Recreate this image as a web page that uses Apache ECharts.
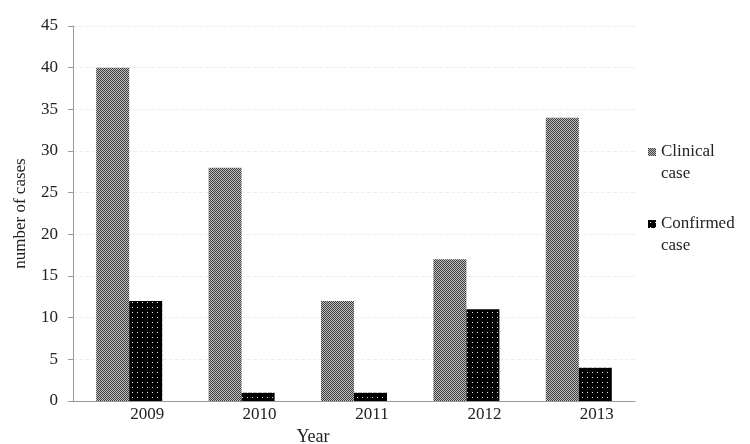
<!DOCTYPE html>
<html>
<head>
<meta charset="utf-8">
<script src="https://cdn.jsdelivr.net/npm/echarts@6/dist/echarts.min.js"></script>
<style>html,body{margin:0;padding:0;background:#fff;}#chart{width:750px;height:444px;}</style>
</head>
<body>
<div id="chart"></div>
<script>
var years = ['2009', '2010', '2011', '2012', '2013'];
var clinicalCases = [40, 28, 12, 17, 34];
var confirmedCases = [12, 1, 1, 11, 4];
var yTicks = { min: 0, max: 45, interval: 5 };

function checkerPattern() {
  var c = document.createElement('canvas');
  c.width = 2; c.height = 2;
  var g = c.getContext('2d');
  g.fillStyle = '#bdbdbd'; g.fillRect(0, 0, 2, 2);
  g.fillStyle = '#404040'; g.fillRect(0, 0, 1, 1); g.fillRect(1, 1, 1, 1);
  return { image: c, repeat: 'repeat' };
}
function dotPattern() {
  var c = document.createElement('canvas');
  c.width = 5; c.height = 5;
  var g = c.getContext('2d');
  g.fillStyle = '#000'; g.fillRect(0, 0, 5, 5);
  g.fillStyle = '#e8e8e8'; g.fillRect(2, 2, 1, 1);
  return { image: c, repeat: 'repeat' };
}

var font = 'Liberation Serif';
// legend icon: square at top of a tall box so it lines up with the first text line
var legendIcon = 'path://M0,0H8V8H0Z M0,30H0.01V30.01H0Z';

var chart = echarts.init(document.getElementById('chart'), null, { renderer: 'canvas' });
chart.setOption({
  animation: false,
  backgroundColor: '#fff',
  textStyle: { fontFamily: font },
  grid: { left: 73, right: 115, top: 26, bottom: 43, outerBoundsMode: 'none', containLabel: false },
  legend: {
    orient: 'vertical',
    left: 643,
    top: 136,
    itemWidth: 8,
    itemHeight: 30,
    itemGap: 28,
    icon: legendIcon,
    textStyle: { fontFamily: font, fontSize: 17, color: '#222', lineHeight: 22 },
    data: ['Clinical\ncase', 'Confirmed\ncase']
  },
  xAxis: {
    type: 'category',
    data: years,
    name: 'Year',
    nameLocation: 'middle',
    nameGap: 27,
    nameTextStyle: { fontFamily: font, fontSize: 18, color: '#222', padding: [0, 82, 0, 0] },
    axisLine: { lineStyle: { color: '#999' } },
    axisTick: { length: 5, lineStyle: { color: '#999' } },
    axisLabel: { fontFamily: font, fontSize: 17, color: '#222', margin: 5, padding: [0, 0, 0, 36] }
  },
  yAxis: {
    type: 'value',
    min: yTicks.min, max: yTicks.max, interval: yTicks.interval,
    name: 'number of cases',
    nameLocation: 'middle',
    nameGap: 44,
    nameTextStyle: { fontFamily: font, fontSize: 17, color: '#222' },
    axisLine: { show: true, lineStyle: { color: '#999' } },
    axisTick: { show: true, length: 5, lineStyle: { color: '#999' } },
    axisLabel: { fontFamily: font, fontSize: 17, color: '#222', margin: 15 },
    splitLine: { lineStyle: { color: '#eeeeee', type: 'dashed' } }
  },
  series: [
    {
      name: 'Clinical\ncase', type: 'bar', data: clinicalCases,
      barWidth: 33, barGap: '0%',
      itemStyle: { color: checkerPattern() }
    },
    {
      name: 'Confirmed\ncase', type: 'bar', data: confirmedCases,
      barWidth: 33, barGap: '0%',
      itemStyle: { color: dotPattern() }
    }
  ]
});
</script>
</body>
</html>
